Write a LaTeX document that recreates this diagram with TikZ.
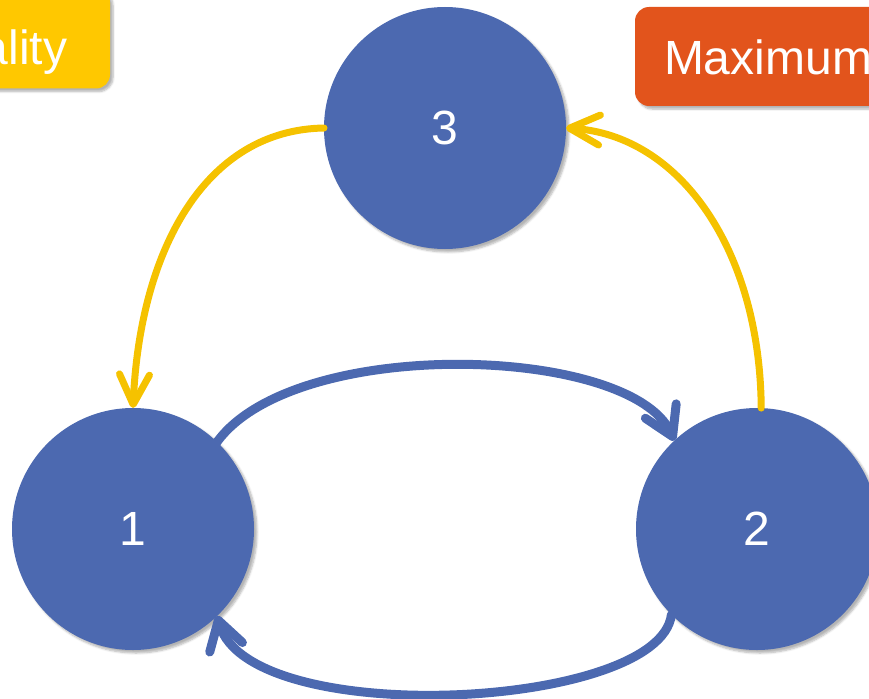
\documentclass[tikz,border=0pt]{standalone}
\usepackage{fontspec}
\setmainfont{Liberation Sans}
\usetikzlibrary{arrows.meta,shadows.blur}
\definecolor{nodeblue}{HTML}{4C69B0}
\definecolor{boxyellow}{HTML}{FFC800}
\definecolor{arrowyellow}{HTML}{F5C200}
\definecolor{boxorange}{HTML}{E2541C}
\tikzset{
  circnode/.style={circle, fill=nodeblue, minimum size=242pt, inner sep=0pt, outer sep=0pt,
    text=white, font=\fontsize{48}{48}\selectfont,
    blur shadow={shadow xshift=3pt, shadow yshift=-3pt, shadow opacity=30, shadow blur steps=6}},
  labelbox/.style={rounded corners=14pt, inner sep=0pt, outer sep=0pt, text=white,
    font=\fontsize{48}{48}\selectfont,
    blur shadow={shadow xshift=3pt, shadow yshift=-3pt, shadow opacity=30, shadow blur steps=6}},
  yarrow/.style={draw=arrowyellow, line width=7pt, line cap=round,
    -{Straight Barb[length=30pt, width=30pt, round]}},
  barrow/.style={draw=nodeblue, line width=9pt, line cap=round,
    -{Straight Barb[length=28pt, width=34pt, round]}},
}
\begin{document}
\begin{tikzpicture}[x=1pt, y=-1pt]
\useasboundingbox (0,0) rectangle (869,698);
% labels
\node[labelbox, fill=boxyellow, minimum width=171pt, minimum height=100pt,
      text height=53pt, text depth=0pt] (cent) at (24.5,38.5) {ality};
\node[labelbox, fill=boxorange, minimum width=266pt, minimum height=99pt,
      text height=37pt, text depth=0pt] (maxi) at (768,56.5) {Maximum};
% nodes
\node[circnode] (n3) at (445,128) {3};
\node[circnode] (n1) at (133,529) {1};
\node[circnode] (n2) at (757,529) {2};
% connectors
\draw[yarrow] (n3.180) .. controls (205,130) and (140,250) .. (n1.90);
\draw[yarrow] (n2.88) .. controls (760,250) and (680,135) .. (n3.0);
\draw[barrow] (n1.46) .. controls (295,335) and (630,345) .. (n2.133);
\draw[barrow] (n2.225) .. controls (660,710) and (250,730) .. (n1.314);
\end{tikzpicture}
\end{document}
